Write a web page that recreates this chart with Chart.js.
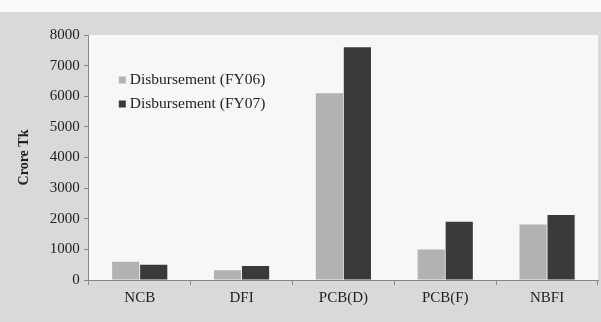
<!DOCTYPE html>
<html><head><meta charset="utf-8">
<script src="https://cdn.jsdelivr.net/npm/chart.js@4/dist/chart.umd.min.js"></script>
<style>
html,body{margin:0;padding:0;background:#f9f9f9;width:601px;height:322px;overflow:hidden;}
#wrap{position:absolute;left:0;top:12px;width:601px;height:310px;}
</style></head><body>
<div id="wrap"><canvas id="c" width="601" height="310"></canvas></div>
<script>
const categories = ['NCB', 'DFI', 'PCB(D)', 'PCB(F)', 'NBFI'];
const fy06 = [600, 320, 6100, 1000, 1810];
const fy07 = [500, 460, 7600, 1900, 2120];
const seriesLabels = ['Disbursement (FY06)', 'Disbursement (FY07)'];
const yTickValues = [0, 1000, 2000, 3000, 4000, 5000, 6000, 7000, 8000];
const yTitle = 'Crore Tk';

const FONT = "'Liberation Serif', 'DejaVu Serif', serif";

const bgPlugin = {
  id: 'bg',
  beforeDraw(chart) {
    const {ctx, chartArea: a} = chart;
    ctx.save();
    ctx.fillStyle = '#d9d9d9';
    ctx.fillRect(0, 0, chart.width, chart.height);
    ctx.fillStyle = '#f7f7f7';
    ctx.fillRect(a.left, a.top, a.right - a.left, a.bottom - a.top);
    ctx.restore();
  }
};

const legendPlugin = {
  id: 'inlineLegend',
  afterDraw(chart) {
    const {ctx, chartArea: a} = chart;
    ctx.save();
    ctx.font = '15.5px ' + FONT;
    ctx.textBaseline = 'middle';
    chart.data.datasets.forEach((ds, i) => {
      const y = a.top + 45 + i * 24;
      const x = a.left + 30;
      ctx.fillStyle = ds.backgroundColor;
      ctx.fillRect(x, y - 3.5, 7, 7);
      ctx.fillStyle = '#222';
      ctx.fillText(ds.label, x + 11, y);
    });
    ctx.restore();
  }
};

new Chart(document.getElementById('c'), {
  type: 'bar',
  data: {
    labels: categories,
    datasets: [
      {label: seriesLabels[0], data: fy06, backgroundColor: '#b2b2b2', borderWidth: 0},
      {label: seriesLabels[1], data: fy07, backgroundColor: '#3a3a3a', borderWidth: 0}
    ]
  },
  options: {
    responsive: false,
    animation: false,
    events: [],
    layout: {padding: {top: 23, right: 3, left: 12, bottom: 11}},
    plugins: {legend: {display: false}, tooltip: {enabled: false}},
    datasets: {bar: {categoryPercentage: 0.55, barPercentage: 0.97}},
    scales: {
      x: {
        grid: {display: true, offset: true, drawOnChartArea: false, tickLength: 5, color: '#888'},
        border: {display: true, color: '#888', width: 1},
        ticks: {font: {family: FONT, size: 15}, color: '#222', padding: 4}
      },
      y: {
        min: 0, max: 8000,
        afterBuildTicks(scale) { scale.ticks = yTickValues.map(v => ({value: v})); },
        grid: {display: true, drawOnChartArea: false, tickLength: 5, color: '#888'},
        border: {display: true, color: '#888', width: 1},
        ticks: {font: {family: FONT, size: 15}, color: '#222', padding: 4, callback: v => String(v)},
        title: {display: true, text: yTitle, font: {family: FONT, size: 14, weight: 'bold'}, color: '#222', padding: {top: 4, bottom: 13}}
      }
    }
  },
  plugins: [bgPlugin, legendPlugin]
});
</script>
</body></html>
